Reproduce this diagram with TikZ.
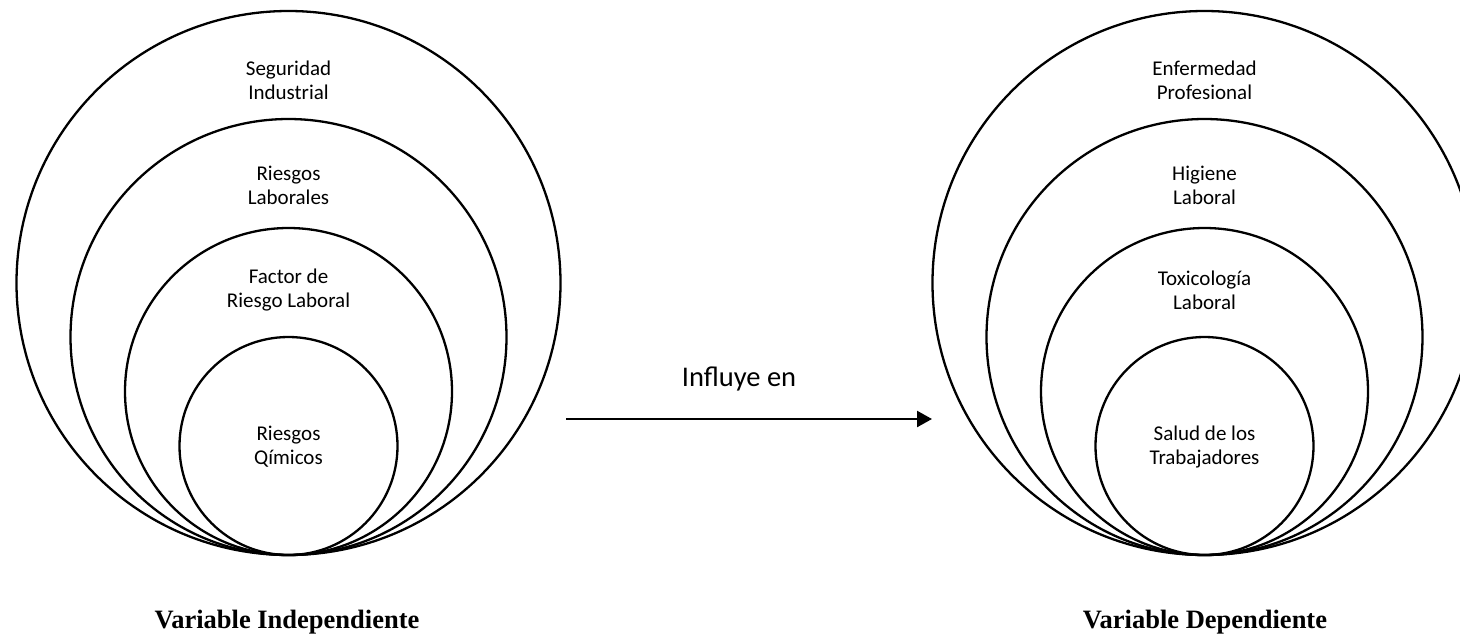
\documentclass[tikz,border=0pt]{standalone}
\usepackage{fontspec}
\setmainfont{Carlito}
\newfontfamily\timesbf{Liberation Serif}
\usetikzlibrary{arrows.meta}
\begin{document}
\begin{tikzpicture}[x=1pt,y=-1pt,
  ring/.style={draw=black,line width=2.3pt},
  lbl/.style={align=center,font=\fontsize{21}{24}\selectfont,inner sep=0pt},
  captext/.style={font=\timesbf\bfseries\fontsize{26.5}{30}\selectfont,inner sep=0pt,anchor=base},
  conn/.style={line width=2.4pt,-{Triangle[length=15pt,width=16pt]}}]
\path[use as bounding box] (0,0) rectangle (1460,638);
\clip (0,0) rectangle (1460,638);
% left rings
\draw[ring] (288.5,283) circle[radius=272];
\draw[ring] (288.5,337) circle[radius=218];
\draw[ring] (288.5,391.5) circle[radius=163.5];
\draw[ring] (288.5,446) circle[radius=109];
% right rings
\draw[ring] (1204.5,283) circle[radius=272];
\draw[ring] (1204.5,337) circle[radius=218];
\draw[ring] (1204.5,391.5) circle[radius=163.5];
\draw[ring] (1204.5,446) circle[radius=109];
% left labels
\node[lbl] (l1) at (288.5,80) {Seguridad\\Industrial};
\node[lbl] (l2) at (288.5,185) {Riesgos\\Laborales};
\node[lbl] (l3) at (288.5,290) {Factor de\\Riesgo Laboral};
\node[lbl] (l4) at (288.5,447) {Riesgos\\Qímicos};
% right labels
\node[lbl] (r1) at (1204.5,80) {Enfermedad\\Profesional};
\node[lbl] (r2) at (1204.5,185) {Higiene\\Laboral};
\node[lbl] (r3) at (1204.5,290) {Toxicología\\Laboral};
\node[lbl] (r4) at (1204.5,447) {Salud de los\\Trabajadores};
% arrow
\coordinate (a) at (566,419);
\coordinate (b) at (932,419);
\draw[conn] (a) -- (b);
\node[font=\fontsize{28.5}{32}\selectfont,inner sep=0pt,anchor=base] (inf) at (739,386) {Influye en};
% captions
\node[captext] (ci) at (287,628) {Variable Independiente};
\node[captext] (cd) at (1205,628) {Variable Dependiente};
\end{tikzpicture}
\end{document}
